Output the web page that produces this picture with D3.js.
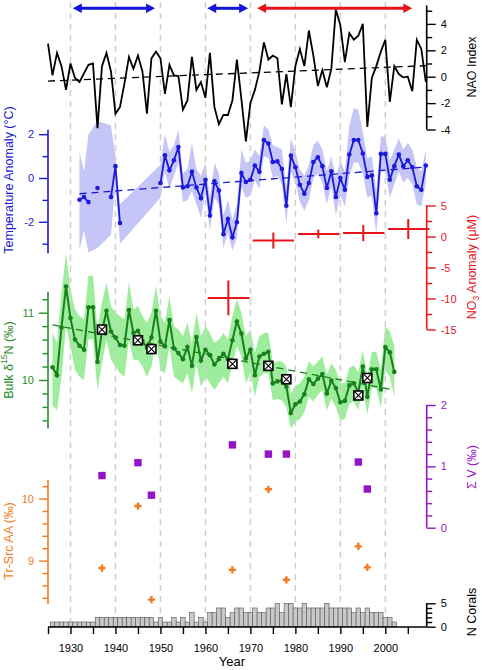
<!DOCTYPE html>
<html><head><meta charset="utf-8">
<script src="https://cdn.jsdelivr.net/npm/d3@7"></script>
<style>body{margin:0;background:#fff}svg{display:block;font-family:"Liberation Sans",Arial,sans-serif}</style>
</head><body><svg id="c" width="482" height="670"></svg>
<script>
// ---------------- DATA ----------------
const naoStart = 1925;
const naoIndex = [2.5,0.1,1.8,0.8,-1.0,1.0,-0.1,-0.4,0.25,0.9,
  1.0,-3.9,0.8,1.8,0.4,-2.8,-2.3,-0.5,1.5,0.6,
  1.6,0.4,-2.8,1.4,1.9,1.4,-1.3,0.9,0.1,0.05,
  -2.5,-1.8,1.5,-1.0,-0.4,-1.6,1.8,-2.3,-3.6,-2.9,
  -2.9,-1.8,1.3,-1.7,-4.9,-2.0,-1.0,0.4,2.6,1.3,
  1.6,1.4,-2.1,0.2,-2.3,0.8,2.1,0.8,3.5,1.6,
  -0.7,0.5,-0.8,0.6,5.1,3.9,1.1,3.3,2.8,3.1,
  4.0,-3.8,-0.1,0.8,1.9,2.8,-1.9,0.8,0.2,-0.05,
  0.0,-1.1,2.8,2.1,-0.4];
const naoTrendYears = [1925, 2009];
const naoTrendVals = [-0.33, 0.83];

// NAO phase arrows (blue = negative phase, red = positive phase)
const phaseStart = [1930.5, 1960.4, 1971.5];
const phaseEnd   = [1948.8, 1969.5, 2006.0];
const phaseColor = ["#1414d8", "#1414d8", "#e8141c"];

const tempStart = 1932;
const tempAnom = [-0.99,-0.87,-1.10,null,-0.46,null,null,-0.87,0.54,-2.06,
  null,null,null,null,null,null,null,null,
  -0.23,1.04,0.35,0.81,1.41,-0.43,-0.38,0.28,-0.43,-0.92,
  -0.08,-1.71,-0.15,-0.57,-2.57,-1.87,-2.71,-2.02,0.23,-0.18,
  -0.08,0.57,0.28,1.73,1.57,0.73,0.76,0.41,-1.27,1.02,
  0.49,-0.31,-0.72,-0.23,0.73,0.95,0.54,-0.46,0.31,-0.87,
  0.00,-0.54,1.07,1.73,1.73,1.12,0.05,0.12,-1.61,1.10,
  1.10,-0.08,0.54,1.07,0.54,0.81,0.49,-0.38,-0.54,0.57];
const tempUpper = [1.2,0.3,2.0,null,2.6,null,null,2.4,1.0,-1.2,
  null,null,null,null,null,null,null,null,
  0.6,2.0,1.2,1.5,2.2,0.2,0.4,1.6,0.4,0.1,
  0.7,-0.9,0.7,0.2,-1.7,-1.0,-1.9,-1.2,1.3,0.7,
  0.8,1.3,1.0,2.4,2.2,1.5,1.4,1.3,-0.4,1.8,
  1.2,0.4,0.1,0.6,1.5,1.7,1.3,0.3,1.0,0.0,
  0.8,0.3,2.4,3.2,3.1,2.1,0.9,1.0,-0.6,1.9,
  1.9,0.8,1.3,1.8,1.3,1.6,1.3,0.5,0.3,1.3];
const tempLower = [-3.3,-2.4,-3.4,null,-3.2,null,null,-2.6,-0.3,-3.0,
  null,null,null,null,null,null,null,null,
  -0.9,0.3,-0.5,0.1,0.7,-1.1,-1.0,-0.6,-1.2,-1.8,
  -0.7,-2.4,-0.9,-1.2,-3.2,-2.5,-3.3,-2.7,-0.4,-0.9,
  -0.8,-0.1,-0.5,1.0,0.9,0.0,0.1,-0.3,-2.1,0.3,
  -0.2,-1.1,-1.5,-1.0,0.0,0.2,-0.2,-1.2,-0.4,-1.7,
  -0.8,-1.3,0.1,0.7,0.7,0.2,-0.9,-0.8,-2.6,0.3,
  0.3,-0.9,-0.3,0.3,-0.2,0.0,-0.3,-1.2,-1.3,-0.2];
const tempTrendYears = [1932, 2009];
const tempTrendVals = [-0.72, 0.50];

// NO3 anomaly decadal crosses
const no3From  = [1960.5, 1970.5, 1980.6, 1990.6, 2000.6];
const no3To    = [1969.8, 1979.7, 1989.8, 1999.8, 2009.8];
const no3Mid   = [1965.1, 1975.1, 1985.1, 1995.1, 2005.1];
const no3Value = [-9.9, -0.65, 0.4, 0.55, 1.2];
const no3Err   = [2.8, 1.3, 0.7, 1.3, 1.6];

const d15Start = 1926;
const d15N = [10.19,10.07,10.78,11.39,10.92,10.60,10.51,10.45,11.08,11.08,
  10.27,10.72,11.03,10.72,10.63,10.52,10.51,11.04,10.70,10.73,
  10.58,10.48,10.63,11.03,10.57,10.50,10.89,10.47,10.40,10.31,
  10.49,10.21,10.64,10.29,10.45,10.37,10.23,10.31,10.39,10.31,
  10.59,10.87,10.69,10.32,10.45,10.07,10.35,10.39,10.42,9.95,
  9.98,9.99,9.90,9.51,9.64,9.68,9.79,10.01,9.94,10.02,
  10.09,9.80,9.99,9.88,9.67,9.69,9.92,9.95,9.82,10.20,
  9.75,10.16,10.16,9.86,10.49,10.41,10.12];
const d15Upper = [10.70,10.55,11.30,11.88,11.35,11.05,10.95,10.90,11.55,11.55,
  10.75,11.15,11.45,11.10,11.00,10.95,10.90,11.45,11.05,11.10,
  10.95,10.85,11.00,11.40,10.95,10.85,11.25,10.80,10.75,10.65,
  10.85,10.55,11.00,10.65,10.80,10.70,10.55,10.60,10.70,10.60,
  10.95,11.20,11.00,10.65,10.75,10.40,10.65,10.70,10.70,10.25,
  10.28,10.28,10.20,9.80,9.92,9.95,10.05,10.28,10.20,10.28,
  10.35,10.08,10.25,10.15,9.95,9.95,10.18,10.22,10.12,10.45,
  10.05,10.42,10.42,10.15,10.80,10.72,10.50];
const d15Lower = [9.62,9.55,10.05,10.80,10.50,10.15,10.05,10.00,10.60,10.60,
  9.85,10.25,10.60,10.30,10.20,10.10,10.05,10.60,10.30,10.30,
  10.20,10.05,10.20,10.60,10.15,10.10,10.50,10.05,10.00,9.95,
  10.10,9.80,10.25,9.90,10.05,9.95,9.85,9.95,10.05,9.95,
  10.25,10.50,10.35,9.95,10.10,9.75,10.05,10.10,10.10,9.70,
  9.72,9.70,9.60,9.28,9.38,9.42,9.52,9.75,9.68,9.78,
  9.85,9.55,9.72,9.60,9.40,9.42,9.65,9.68,9.55,9.90,
  9.48,9.88,9.88,9.58,10.15,10.05,9.75];
const d15TrendYears = [1926, 2002];
const d15TrendVals = [10.82, 9.85];

// individual coral samples
const sampleYears = [1937,1945,1948,1966,1974,1978,1994,1996];
const sampleBulk  = [10.75,10.59,10.46,10.24,10.21,10.01,9.77,10.03];
const sigmaV      = [0.85,1.06,0.53,1.35,1.20,1.20,1.07,0.63];
const trSrcAA     = [8.88,9.88,8.37,8.85,10.15,8.69,9.23,8.89];

const coralStart = 1926;
const nCorals = [1,1,1,1,1,1,1,1,1,1,
  2,2,2,2,2,2,2,2,2,2,2,2,2,
  1,2,1,1,2,1,2,1,3,1,2,1,3,3,4,4,2,3,4,4,3,3,4,3,3,4,4,5,3,5,5,4,4,5,
  4,4,4,4,5,4,4,4,4,4,3,4,3,4,3,3,3,2,2,1];

const decades = [1930,1940,1950,1960,1970,1980,1990,2000];
const xTicks = [1925,1930,1935,1940,1945,1950,1955,1960,1965,1970,1975,1980,1985,1990,1995,2000,2005];

// ---------------- DRAW ----------------
const svg = d3.select("#c");
const FONT = '"Liberation Sans", Arial, sans-serif';
const x = d3.scaleLinear().domain([1925, 2009.2]).range([48, 426.7]);
const XL = 48, XR = 426.7;

const yNao = d3.scaleLinear().domain([-4,5]).range([129.5,10.7]);
const yTemp = d3.scaleLinear().domain([-2,2]).range([221.8,134.2]);
const yNo3 = d3.scaleLinear().domain([-15,5]).range([329.5,205.5]);
const yD15 = d3.scaleLinear().domain([10,11]).range([380,312.7]);
const ySig = d3.scaleLinear().domain([0,2]).range([527.7,405]);
const yTr = d3.scaleLinear().domain([9,10]).range([560.6,498.6]);
const yN = d3.scaleLinear().domain([0,5]).range([626.7,603.3]);

const C = {blue:"#1a1ad8", band:"#c5c6f7", green:"#17801a", gband:"#9ded9d", gaxis:"#2a8c2a",
  red:"#e8141c", purple:"#9614c8", orange:"#f47a20"};

const naoData = naoIndex.map((v,i)=>({yr:naoStart+i, v}));
const tempData = tempAnom.map((v,i)=>({yr:tempStart+i, v, hi:tempUpper[i], lo:tempLower[i]}));
const d15Data = d15N.map((v,i)=>({yr:d15Start+i, v, hi:d15Upper[i], lo:d15Lower[i]}));
const samples = sampleYears.map((yr,i)=>({yr, b:sampleBulk[i], s:sigmaV[i], t:trSrcAA[i]}));

// bands
const tBand = tempData.filter(d=>d.v!=null);
svg.append("path").datum(tBand)
  .attr("d", d3.area().x(d=>x(d.yr)).y0(d=>yTemp(d.lo)).y1(d=>yTemp(d.hi)))
  .attr("fill", C.band);
svg.append("path").datum(d15Data)
  .attr("d", d3.area().x(d=>x(d.yr)).y0(d=>yD15(d.lo)).y1(d=>yD15(d.hi)))
  .attr("fill", C.gband);

// grid
svg.append("g").selectAll("line").data(decades).join("line")
  .attr("x1",d=>x(d)).attr("x2",d=>x(d)).attr("y1",2).attr("y2",624)
  .attr("stroke","#cfcfcf").attr("stroke-width",1.5).attr("stroke-dasharray","6,5");

// bars
const bw = x(1926)-x(1925);
svg.append("g").selectAll("rect").data(nCorals.map((n,i)=>({yr:coralStart+i,n}))).join("rect")
  .attr("x",d=>x(d.yr-0.5)).attr("width",bw)
  .attr("y",d=>yN(d.n)).attr("height",d=>yN(0)-yN(d.n))
  .attr("fill","#c8c8c8").attr("stroke","#555").attr("stroke-width",0.6);

// NAO
svg.append("path").datum(naoData)
  .attr("d", d3.line().x(d=>x(d.yr)).y(d=>yNao(d.v)))
  .attr("fill","none").attr("stroke","#000").attr("stroke-width",1.8).attr("stroke-linejoin","miter");
svg.append("line").attr("x1",x(naoTrendYears[0])).attr("x2",x(naoTrendYears[1]))
  .attr("y1",yNao(naoTrendVals[0])).attr("y2",yNao(naoTrendVals[1]))
  .attr("stroke","#000").attr("stroke-width",1.3).attr("stroke-dasharray","7,5");

// phase arrows
phaseStart.forEach((s,i)=>{
  const x0=x(s), x1=x(phaseEnd[i]), y=8.3, h=9, w=4.8, c=phaseColor[i];
  svg.append("line").attr("x1",x0+h-1).attr("x2",x1-h+1).attr("y1",y).attr("y2",y)
    .attr("stroke",c).attr("stroke-width",3);
  svg.append("path").attr("d",`M${x0},${y}L${x0+h},${y-w}L${x0+h},${y+w}Z`).attr("fill",c);
  svg.append("path").attr("d",`M${x1},${y}L${x1-h},${y-w}L${x1-h},${y+w}Z`).attr("fill",c);
});

// temperature
svg.append("line").attr("x1",x(tempTrendYears[0])).attr("x2",x(tempTrendYears[1]))
  .attr("y1",yTemp(tempTrendVals[0])).attr("y2",yTemp(tempTrendVals[1]))
  .attr("stroke",C.blue).attr("stroke-width",1.3).attr("stroke-dasharray","7,5");
svg.append("path").datum(tempData)
  .attr("d", d3.line().defined(d=>d.v!=null).x(d=>x(d.yr)).y(d=>yTemp(d.v)))
  .attr("fill","none").attr("stroke",C.blue).attr("stroke-width",1.8);
svg.append("g").selectAll("circle").data(tBand).join("circle")
  .attr("cx",d=>x(d.yr)).attr("cy",d=>yTemp(d.v)).attr("r",2.3).attr("fill",C.blue);

// NO3 crosses
no3Value.forEach((v,i)=>{
  const g = svg.append("g").attr("stroke",C.red).attr("stroke-width",2);
  g.append("line").attr("x1",x(no3From[i])).attr("x2",x(no3To[i])).attr("y1",yNo3(v)).attr("y2",yNo3(v));
  g.append("line").attr("x1",x(no3Mid[i])).attr("x2",x(no3Mid[i])).attr("y1",yNo3(v-no3Err[i])).attr("y2",yNo3(v+no3Err[i]));
});

// d15N
svg.append("line").attr("x1",x(d15TrendYears[0])).attr("x2",x(d15TrendYears[1]))
  .attr("y1",yD15(d15TrendVals[0])).attr("y2",yD15(d15TrendVals[1]))
  .attr("stroke",C.green).attr("stroke-width",1.3).attr("stroke-dasharray","7,5");
svg.append("path").datum(d15Data)
  .attr("d", d3.line().x(d=>x(d.yr)).y(d=>yD15(d.v)))
  .attr("fill","none").attr("stroke",C.green).attr("stroke-width",2);
svg.append("g").selectAll("circle").data(d15Data).join("circle")
  .attr("cx",d=>x(d.yr)).attr("cy",d=>yD15(d.v)).attr("r",2.3).attr("fill",C.green);

// sample boxes
const bx = svg.append("g").selectAll("g").data(samples).join("g")
  .attr("transform",d=>`translate(${x(d.yr)},${yD15(d.b)})`);
bx.append("rect").attr("x",-4.5).attr("y",-4.5).attr("width",9).attr("height",9)
  .attr("fill","#fff").attr("stroke","#000").attr("stroke-width",1.6);
bx.append("path").attr("d","M-4,-4L4,4M4,-4L-4,4").attr("stroke","#000").attr("stroke-width",1.1);

// sigma V squares
svg.append("g").selectAll("rect").data(samples).join("rect")
  .attr("x",d=>x(d.yr)-3.7).attr("y",d=>ySig(d.s)-3.7).attr("width",7.4).attr("height",7.4)
  .attr("fill",C.purple);

// Tr-Src crosses
svg.append("g").selectAll("path").data(samples).join("path")
  .attr("d",d=>{const cx=x(d.yr), cy=yTr(d.t); return `M${cx-3.6},${cy}H${cx+3.6}M${cx},${cy-3.6}V${cy+3.6}`;})
  .attr("stroke",C.orange).attr("stroke-width",2.4);

// ---------------- AXES ----------------
function vAxis(scale, side, xPos, majors, minors, ext, color){
  const g = svg.append("g").attr("transform",`translate(${xPos},0)`);
  const mk = side==="left"? d3.axisLeft : d3.axisRight;
  g.append("g").call(mk(scale).tickValues(minors).tickSize(5.5).tickFormat(""));
  g.append("g").call(mk(scale).tickValues(majors).tickSize(9).tickPadding(5).tickFormat(d=>String(d)));
  g.selectAll(".domain").remove();
  g.selectAll("g").attr("font-family",null).attr("font-size",null);
  g.append("line").attr("x1",0).attr("x2",0).attr("y1",scale(ext[0])).attr("y2",scale(ext[1]))
    .attr("stroke",color).attr("stroke-width",1.6);
  g.selectAll(".tick line").attr("stroke",color).attr("stroke-width",1.4);
  g.selectAll(".tick text").attr("fill",color).style("font-family",FONT).style("font-size","11px");
}
vAxis(yNao,"right",XR,[-4,-2,0,2,4],[-3,-1,1,3,5],[-4,5.4],"#000");
vAxis(yTemp,"left",XL,[-2,0,2],[-3,-1,1],[-3.44,2.2],C.blue);
vAxis(yNo3,"right",XR,[-15,-10,-5,0,5],[-12.5,-7.5,-2.5,2.5],[-15,5],C.red);
vAxis(yD15,"left",XL,[10,11],[9.4,9.6,9.8,10.2,10.4,10.6,10.8,11.2],[9.28,11.31],C.gaxis);
vAxis(ySig,"right",XR,[0,1,2],[0.2,0.4,0.6,0.8,1.2,1.4,1.6,1.8],[0,2],C.purple);
vAxis(yTr,"left",XL,[9,10],[8.4,8.6,8.8,9.2,9.4,9.6,9.8,10.2],[8.3,10.3],C.orange);
vAxis(yN,"right",XR,[0,5],[1,2,3,4],[0,5],"#000");

// x axis
const xa = svg.append("g").attr("transform","translate(0,627)")
  .call(d3.axisBottom(x).tickValues(xTicks).tickSize(7).tickPadding(10)
    .tickFormat(d=> d%10===0 ? String(d) : ""));
xa.select(".domain").remove();
xa.attr("font-family",null).attr("font-size",null);
xa.append("line").attr("x1",XL).attr("x2",XR).attr("stroke","#000").attr("stroke-width",1.6);
xa.selectAll(".tick line").attr("stroke","#000").attr("stroke-width",1.4);
xa.selectAll(".tick text").attr("fill","#000").style("font-family",FONT).style("font-size","11px");

// titles
function vTitle(cx, cy, color, build){
  const t = svg.append("text").attr("transform",`translate(${cx},${cy}) rotate(-90)`)
    .attr("text-anchor","middle").attr("dominant-baseline","central")
    .attr("fill",color).style("font-family",FONT).style("font-size","12.5px");
  build(t);
}
vTitle(8.5,180,C.blue,t=>t.text("Temperature Anomaly (°C)"));
vTitle(8.5,360,C.gaxis,t=>{t.append("tspan").text("Bulk δ");
  t.append("tspan").attr("font-size","8.5px").attr("dy",-4.5).text("15");
  t.append("tspan").attr("dy",4.5).text("N (‰)");});
vTitle(8.5,541,C.orange,t=>t.text("Tr-Src AA (‰)"));
vTitle(472,67,"#000",t=>t.text("NAO Index"));
vTitle(472,267,C.red,t=>{t.append("tspan").text("NO");
  t.append("tspan").attr("font-size","8.5px").attr("dy",3.5).text("3");
  t.append("tspan").attr("dy",-3.5).text(" Anomaly (μM)");});
vTitle(472,467,C.purple,t=>t.text("Σ V (‰)"));
vTitle(472,612,"#000",t=>t.text("N Corals"));
svg.append("text").attr("x",232).attr("y",666).attr("text-anchor","middle")
  .style("font-family",FONT).style("font-size","13px").text("Year");
</script></body></html>
